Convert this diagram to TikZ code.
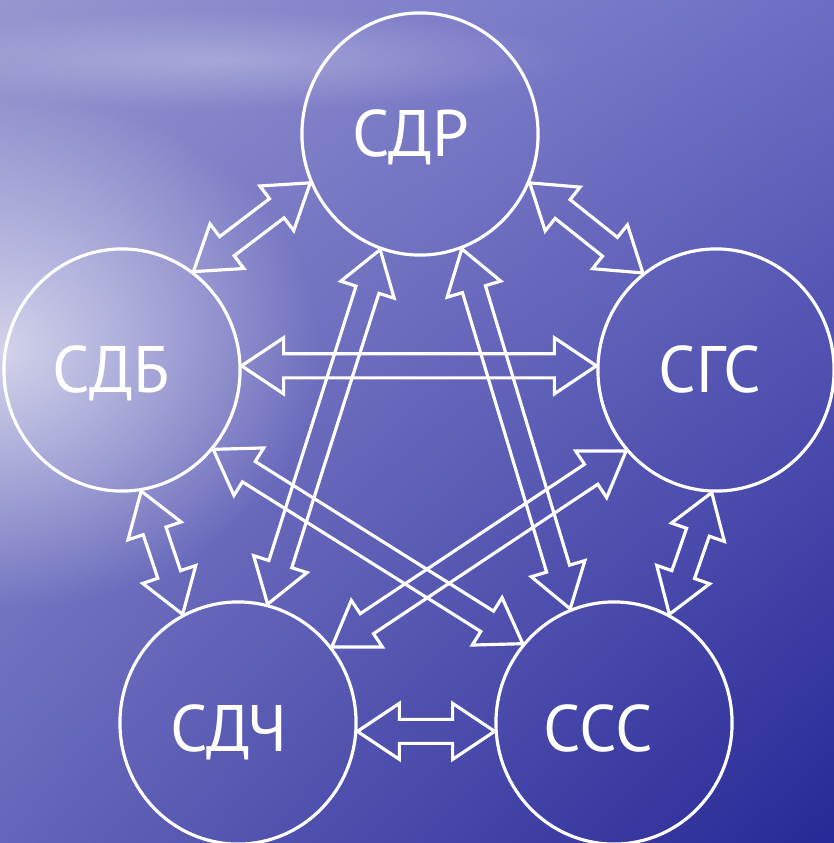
\documentclass[tikz,border=0pt]{standalone}
\usepackage{fontspec}
\setmainfont{PT Sans}
\usepackage{xcolor}
\usetikzlibrary{shapes.geometric, calc, fadings, shadings}

\definecolor{seaTL}{RGB}{150,150,208}
\definecolor{seaTR}{RGB}{108,110,196}
\definecolor{seaBL}{RGB}{100,102,186}
\definecolor{seaBR}{RGB}{40,40,150}

\tikzfading[name=glow, inner color=transparent!35, outer color=transparent!100]

\newcommand\tiplen{0.42cm}
\newcommand\tipwid{0.28cm}
\newcommand\shaftwid{0.12cm}
% hollow double-headed arrow between two border points
\newcommand\link[2]{%
  \draw [link] (#1)
    -- ($(#1)!\tiplen!(#2)!\tipwid!-90:(#2)$)
    -- ($(#1)!\tiplen!(#2)!\shaftwid!-90:(#2)$)
    -- ($(#2)!\tiplen!(#1)!\shaftwid!90:(#1)$)
    -- ($(#2)!\tiplen!(#1)!\tipwid!90:(#1)$)
    -- (#2)
    -- ($(#2)!\tiplen!(#1)!\tipwid!-90:(#1)$)
    -- ($(#2)!\tiplen!(#1)!\shaftwid!-90:(#1)$)
    -- ($(#1)!\tiplen!(#2)!\shaftwid!90:(#2)$)
    -- ($(#1)!\tiplen!(#2)!\tipwid!90:(#2)$)
    -- cycle;}

\begin{document}
\begin{tikzpicture}[x=0.01cm, y=-0.01cm,
            hub/.style={draw=white, ellipse, line width=0.9pt, minimum width=2.36cm, minimum height=2.42cm, inner sep=0pt},
            tag/.style={text=white, anchor=base, inner sep=0pt, font=\fontsize{18.7}{22}\selectfont},
            link/.style={draw=white, line width=0.9pt, line join=miter}]

            % Background
            \useasboundingbox (0,0) rectangle (834,843);
            \clip (0,0) rectangle (834,843);
            \shade [upper left=seaTL, upper right=seaTR, lower left=seaBL, lower right=seaBR] (0,0) rectangle (834,843);
            \fill [white, path fading=glow] (0,350) ellipse [x radius=3.2cm, y radius=2.6cm];
            \fill [white, path fading=glow, opacity=0.4] (220,60) ellipse [x radius=3.6cm, y radius=0.5cm];

            % Nodes
            \node (sdr) [hub] at (420,134) {};
            \node (sdb) [hub] at (122,370) {};
            \node (sgs) [hub] at (716,370) {};
            \node (sdch) [hub] at (238,723) {};
            \node (sss) [hub] at (614,723) {};

            \node (sdrtxt) [tag] at ([shift={(-9,23)}]sdr) {СДР};
            \node (sdbtxt) [tag] at ([shift={(-11,23)}]sdb) {СДБ};
            \node (sgstxt) [tag] at ([shift={(-6,23)}]sgs) {СГС};
            \node (sdchtxt) [tag] at ([shift={(-9,28)}]sdch) {СДЧ};
            \node (ssstxt) [tag] at ([shift={(-16,28)}]sss) {ССС};

            % Arrows
            \link{sdr.204}{sdb.54}
            \link{sdr.336}{sgs.127}
            \link{sdb.2}{sgs.178}
            \link{sdb.279}{sdch.117}
            \link{sgs.268}{sss.63}
            \link{sdch.356}{sss.184}
            \link{sdr.251}{sdch.76}
            \link{sdr.290}{sss.111}
            \link{sdb.319}{sss.139}
            \link{sgs.222}{sdch.39}
        \end{tikzpicture}
\end{document}
